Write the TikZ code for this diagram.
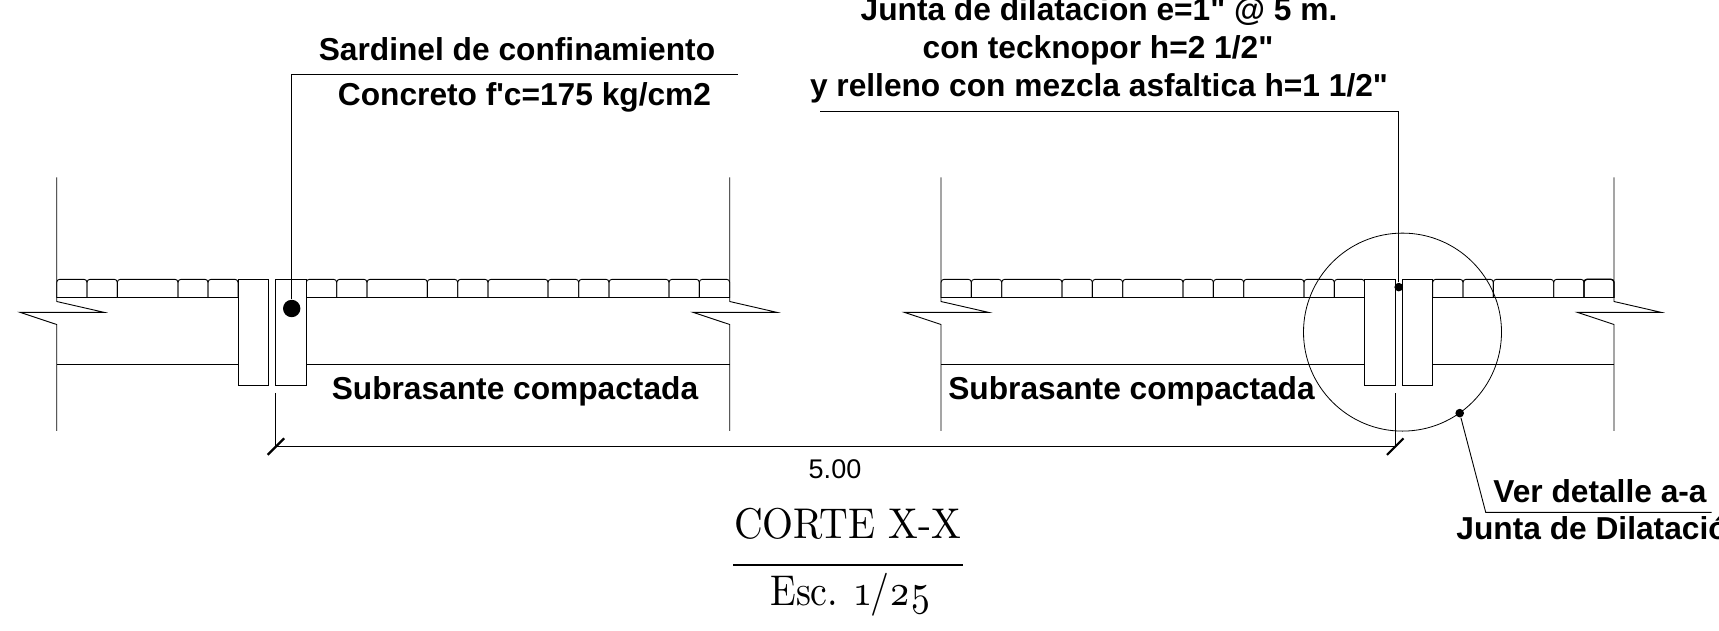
\documentclass[tikz,border=0pt]{standalone}
\usepackage{fontspec}
\usepackage{tikz}
\newfontfamily\rotulo{Liberation Sans}
\newfontfamily\titulofont{lmroman10-regular.otf}[Numbers=OldStyle]

\begin{document}
\begin{tikzpicture}[
            x = 1pt, y = -1pt, % same units as the drawing
            yshift = -0.8pt,
            line width = 0.9pt % line style
        ]

        \tikzstyle{sardinel}=[
            draw = black,
            fill = white,
            minimum width = 30.5pt,
            minimum height = 106.5pt,
            inner sep = 0pt
        ]
        \tikzstyle{paver}=[rounded corners = 3pt]
        \tikzstyle{punto}=[circle, fill = black, inner sep = 0pt]
        \tikzstyle{tick}=[line width = 2.2pt]
        \tikzstyle{nota}=[anchor = base, inner sep = 0pt, font = \rotulo\bfseries\fontsize{31.7}{32}\selectfont]
        \tikzstyle{titulo}=[anchor = base, inner sep = 0pt, transform shape, font = \titulofont\fontsize{43}{43}\selectfont]

        \useasboundingbox (0,-0.8) rectangle (1719,629.2);

        % pavers
        \foreach \a/\b in {56.7/87, 87/117.3, 117.3/178, 178/208, 208/238,
                306.3/336.7, 336.7/367, 367/427.3, 427.3/457.7, 457.7/488, 488/548,
                548/578.7, 578.7/609, 609/669, 669/699.3, 699.3/729.7,
                941/971.3, 971.3/1001.7, 1001.7/1062, 1062/1092.4, 1092.4/1122.7, 1122.7/1183,
                1183/1213.4, 1213.4/1243.7, 1243.7/1304, 1304/1334.3, 1334.3/1364.7,
                1432.7/1463, 1463/1493.3, 1493.3/1553.7, 1553.7/1584, 1584/1614}
            \draw[paver] (\a,297) -- (\a,278.5) -- (\b,278.5) -- (\b,297);
        \draw[paver, line width = 1.3pt] (1584,297) -- (1584,278.5) -- (1614,278.5) -- (1614,297);
        \draw[line width = 1.3pt] (56.7,297) -- (238,297);
        \draw[line width = 1.3pt] (306.3,297) -- (729.7,297);
        \draw[line width = 1.3pt] (941,297) -- (1364.7,297);
        \draw[line width = 1.3pt] (1432.7,297) -- (1614,297);

        % walls with break marks
        \foreach \dx in {0,884.3} {
            \begin{scope}[xshift = \dx pt]
                \draw (56.7,176.5) -- (56.7,300.7) -- (104,311.5) -- (20,311.5) -- (56.7,323.7) -- (56.7,430);
                \draw (729.7,176.5) -- (729.7,300.7) -- (776.7,311.5) -- (693,311.5) -- (729.7,323.7) -- (729.7,430);
            \end{scope}
        }

        % curbs
        \node[sardinel] (s1) at (253.2,331.5) {};
        \node[sardinel] (s2) at (291,331.5) {};
        \node[sardinel] (s3) at (1379.9,331.5) {};
        \node[sardinel] (s4) at (1417.5,331.5) {};

        \draw (56.7,363.5) -- (s1.west |- 0,363.5);
        \draw (s2.east |- 0,363.5) -- (729.7,363.5);
        \draw (941,363.5) -- (s3.west |- 0,363.5);
        \draw (s4.east |- 0,363.5) -- (1614,363.5);

        % detail circle
        \node[draw, circle, minimum size = 198pt, inner sep = 0pt, line width = 0.8pt] (detalle) at (1402.5,331.3) {};

        % leaders
        \node[punto, minimum size = 17.4pt] (p1) at (291.7,307.7) {};
        \node[punto, minimum size = 8.6pt] (p2) at (1398.7,286.3) {};
        \node[punto, minimum size = 8.6pt] (p3) at (1459.7,412.3) {};
        \coordinate (l1a) at (291.7,73.5);
        \coordinate (l1b) at (738,73.5);
        \coordinate (l2a) at (1398.7,110.7);
        \coordinate (l2b) at (820,110.7);
        \coordinate (l3a) at (1485.7,511.5);
        \coordinate (l3b) at (1711.7,511.5);
        \draw (p1) -- (l1a) -- (l1b);
        \draw (p2) -- (l2a) -- (l2b);
        \draw (p3) -- (l3a) -- (l3b);

        % dimension
        \coordinate (dimA) at (275.7,446);
        \coordinate (dimB) at (1395,446);
        \coordinate (extA) at (275.7,392);
        \coordinate (extB) at (1395,392);
        \draw (extA) -- (dimA) -- (dimB) -- (extB);
        \draw[tick] (dimA) ++(-8,8) -- ++(16.5,-16.5);
        \draw[tick] (dimB) ++(-8,8) -- ++(16.5,-16.5);

        % texts
        \node[nota] (sardinel1) at (517,60) {Sardinel de confinamiento};
        \node[nota] (concreto) at (524.5,104.5) {Concreto f'c=175 kg/cm2};
        \node[nota] (junta1) at (1099,19.5) {Junta de dilatacion e=1" @ 5 m.};
        \node[nota] (junta2) at (1098,57.5) {con tecknopor h=2 1/2"};
        \node[nota] (junta3) at (1099,96) {y relleno con mezcla asfaltica h=1 1/2"};
        \node[nota] (sub1) at (515,399) {Subrasante compactada};
        \node[nota] (sub2) at (1131.5,399) {Subrasante compactada};
        \node[nota] (ver) at (1600,501.5) {Ver detalle a-a};
        \node[nota, anchor = base west] (junta4) at (1456,539) {Junta de Dilatación};
        \node[anchor = base, inner sep = 0pt, font = \rotulo\fontsize{27}{27}\selectfont] (dim) at (835,477.3) {5.00};

        \node[titulo, xscale = 0.925] (corte) at (848,538) {CORTE X-X};
        \node[titulo, xscale = 0.88] (esc) at (850.6,605) {Esc. 1/25};
        \coordinate (rayaA) at (733.3,564.3);
        \coordinate (rayaB) at (963.3,564.3);
        \draw[line width = 1.6pt] (rayaA) -- (rayaB);

  \end{tikzpicture}
\end{document}
